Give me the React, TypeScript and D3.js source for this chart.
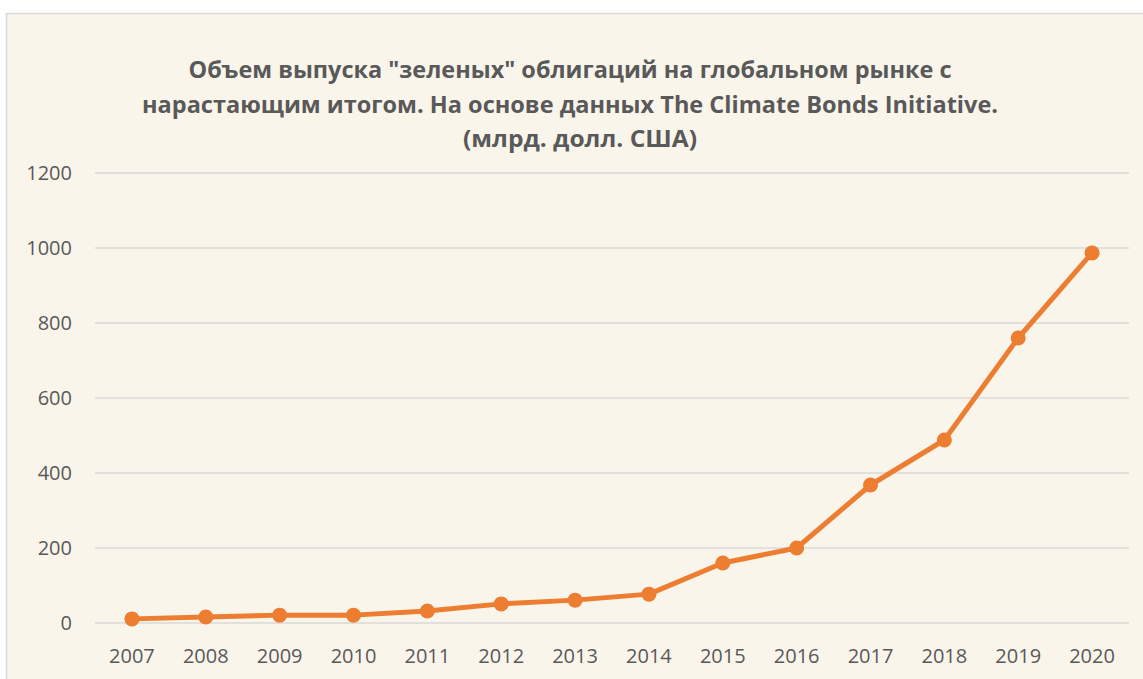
import { scaleBand, scaleLinear, line } from 'd3'

const years = ['2007', '2008', '2009', '2010', '2011', '2012', '2013', '2014', '2015', '2016', '2017', '2018', '2019', '2020']
const volumes = [11, 16, 21, 21, 32, 51, 61, 77, 160, 200, 368, 488, 760, 987]
const yTickValues = [0, 200, 400, 600, 800, 1000, 1200]
const titleLines = [
  'Объем выпуска "зеленых" облигаций на глобальном рынке с',
  'нарастающим итогом. На основе данных The Climate Bonds Initiative.',
  '(млрд. долл. США)',
]
// widths and centres of the title lines as they sit in the original picture
const titleWidths = [763, 856, 234]
const titleCenters = [570, 570, 580]

const width = 1143
const height = 679

const plot = {
  left: 95,
  right: 1129,
  top: 173,
  bottom: 623,
}

const textColor = '#595959'
const lineColor = '#ED7D31'
const font = '"Open Sans", sans-serif'

function App() {
  const xScale = scaleBand<string>()
    .domain(years)
    .range([plot.left, plot.right])
    .padding(0)

  const yScale = scaleLinear()
    .domain([0, 1200])
    .range([plot.bottom, plot.top])

  const points = years.map((year, i) => ({
    x: (xScale(year) ?? 0) + xScale.bandwidth() / 2,
    y: yScale(volumes[i]),
  }))

  const path = line<{ x: number; y: number }>()
    .x((d) => d.x)
    .y((d) => d.y)(points)

  return (
    <svg
      width={width}
      height={height}
      style={{ position: 'absolute', left: 0, top: 0, display: 'block' }}
      fontFamily={font}
    >
      <rect x={0} y={0} width={width} height={height} fill="#ffffff" />
      <rect x={6.5} y={13.5} width={width + 10} height={height} fill="#FAF5EB" stroke="#D9D9D9" strokeWidth={1.5} />

      {titleLines.map((t, i) => (
        <text
          key={t}
          x={titleCenters[i]}
          y={78 + i * 34.5}
          textAnchor="middle"
          fontSize={23}
          fontWeight="bold"
          fill={textColor}
          textLength={titleWidths[i]}
          lengthAdjust="spacingAndGlyphs"
        >
          {t}
        </text>
      ))}

      {yTickValues.map((tick) => (
        <line
          key={tick}
          x1={plot.left}
          x2={plot.right}
          y1={yScale(tick)}
          y2={yScale(tick)}
          stroke="#D9D9D9"
          strokeWidth={1.5}
        />
      ))}

      {yTickValues.map((tick) => (
        <text
          key={`${tick}-label`}
          x={72}
          y={yScale(tick)}
          dy="0.36em"
          textAnchor="end"
          fontSize={20}
          fill={textColor}
        >
          {tick}
        </text>
      ))}

      {years.map((year) => (
        <text
          key={year}
          x={(xScale(year) ?? 0) + xScale.bandwidth() / 2}
          y={663}
          textAnchor="middle"
          fontSize={20}
          fill={textColor}
        >
          {year}
        </text>
      ))}

      <path d={path ?? ''} fill="none" stroke={lineColor} strokeWidth={5} strokeLinejoin="round" />

      {points.map((p, i) => (
        <circle key={years[i]} cx={p.x} cy={p.y} r={7.5} fill={lineColor} />
      ))}
    </svg>
  )
}

export default App
